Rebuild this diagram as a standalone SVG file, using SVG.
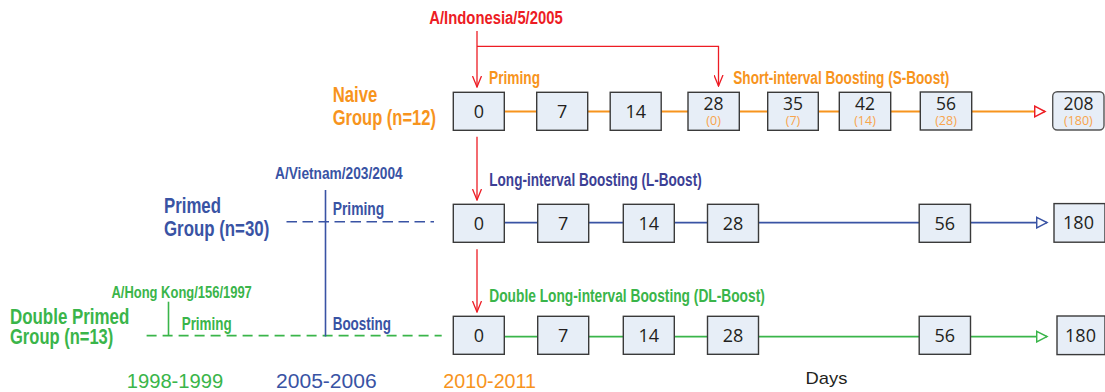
<svg xmlns="http://www.w3.org/2000/svg" width="1105" height="392" viewBox="0 0 1105 392">
  <style>
    .lbl { font-family: "Liberation Sans Narrow", "Liberation Sans", Arial, sans-serif; font-weight: bold; }
    .reg { font-family: "Liberation Sans", Arial, sans-serif; }
    .num { font-family: "Open Sans", "Liberation Sans", sans-serif; font-size: 18px; fill: #231f20; text-anchor: middle; }
    .num2 { font-family: "Open Sans", "Liberation Sans", sans-serif; font-size: 17.5px; fill: #231f20; text-anchor: middle; }
    .sub { font-family: "Open Sans", "Liberation Sans", sans-serif; font-size: 12.5px; fill: #f8a44c; text-anchor: middle; }
    .box { fill: #e7eef7; stroke: #3a3a3a; stroke-width: 1.4; }
    .red { stroke: #ed1c24; stroke-width: 1.3; fill: none; }
    .orange { fill: #f7941d; }
    .blue { fill: #3953a4; }
    .indigo { fill: #3c3f95; }
    .green { fill: #3ab54a; }
  </style>
  <defs>
    <marker id="vRed" markerUnits="userSpaceOnUse" markerWidth="12" markerHeight="10" refX="11" refY="5" orient="auto" viewBox="0 0 12 10">
      <path d="M0,0.5 L11,5 L0,9.5" fill="none" stroke="#ed1c24" stroke-width="1.3"/>
    </marker>
    <marker id="triRed" markerUnits="userSpaceOnUse" markerWidth="13" markerHeight="13" refX="11.5" refY="6.5" orient="auto" viewBox="0 0 13 13">
      <path d="M1.2,1.2 L11.5,6.5 L1.2,11.8 Z" fill="#fff" stroke="#ed1c24" stroke-width="1.5"/>
    </marker>
    <marker id="triBlue" markerUnits="userSpaceOnUse" markerWidth="13" markerHeight="13" refX="11.5" refY="6.5" orient="auto" viewBox="0 0 13 13">
      <path d="M1.2,1.2 L11.5,6.5 L1.2,11.8 Z" fill="#fff" stroke="#3953a4" stroke-width="1.5"/>
    </marker>
    <marker id="triGreen" markerUnits="userSpaceOnUse" markerWidth="13" markerHeight="13" refX="11.5" refY="6.5" orient="auto" viewBox="0 0 13 13">
      <path d="M1.2,1.2 L11.5,6.5 L1.2,11.8 Z" fill="#fff" stroke="#3ab54a" stroke-width="1.5"/>
    </marker>
  </defs>

  <rect width="1105" height="392" fill="#ffffff"/>

  <!-- connectors -->
  <g id="connectors">
    <!-- schedule lines -->
    <path d="M504,111.5 H537 M588,111.5 H610 M661,111.5 H688 M739,111.5 H768 M818,111.5 H839 M891,111.5 H920" stroke="#f7941d" stroke-width="2" fill="none"/>
    <path d="M972,111.5 H1045" stroke="#f7941d" stroke-width="2" fill="none" marker-end="url(#triRed)"/>
    <path d="M504,222.6 H538 M589,222.6 H623 M674,222.6 H707.5 M758.5,222.6 H919" stroke="#3953a4" stroke-width="1.8" fill="none"/>
    <path d="M970.5,222.6 H1047" stroke="#3953a4" stroke-width="1.8" fill="none" marker-end="url(#triBlue)"/>
    <path d="M504,336.6 H538 M589,336.6 H623 M674,336.6 H707.5 M758.5,336.6 H919" stroke="#3ab54a" stroke-width="1.8" fill="none"/>
    <path d="M970.5,336.6 H1047" stroke="#3ab54a" stroke-width="1.8" fill="none" marker-end="url(#triGreen)"/>

    <!-- vaccine strain arrows -->
    <path class="red" d="M477,31 V87" marker-end="url(#vRed)"/>
    <path class="red" d="M477,46.3 H718.5 V86" marker-end="url(#vRed)"/>
    <path class="red" d="M477,136.7 V200" marker-end="url(#vRed)"/>
    <path class="red" d="M477,249.3 V312" marker-end="url(#vRed)"/>

    <!-- earlier priming / boosting history -->
    <path d="M286.5,221.7 H434" stroke="#3953a4" stroke-width="1.6" stroke-dasharray="10.5 5.5" fill="none"/>
    <path d="M146.6,335.6 H441.7" stroke="#3ab54a" stroke-width="1.6" stroke-dasharray="10 6" fill="none"/>
    <path d="M325.5,190 V336.5" stroke="#3953a4" stroke-width="1.6" fill="none"/>
    <path d="M168.5,301.7 V335.6" stroke="#3ab54a" stroke-width="1.6" fill="none"/>
  </g>

  <!-- naive group schedule -->
  <g id="naive-d0"><rect class="box" x="453.3" y="92.3" width="51" height="38"/><text class="num" x="478.8" y="118">0</text></g>
  <g id="naive-d7"><rect class="box" x="536.7" y="92.3" width="51" height="38"/><text class="num" x="562.2" y="118">7</text></g>
  <g id="naive-d14"><rect class="box" x="610.2" y="92.3" width="51" height="38"/><text class="num" x="635.7" y="118">14</text></g>
  <g id="naive-d28"><rect class="box" x="688" y="92.3" width="51.3" height="38"/><text class="num2" x="713.6" y="110">28</text><text class="sub" x="713.6" y="124.6">(0)</text></g>
  <g id="naive-d35"><rect class="box" x="767.7" y="92.3" width="50.6" height="38"/><text class="num2" x="793" y="110">35</text><text class="sub" x="793" y="124.6">(7)</text></g>
  <g id="naive-d42"><rect class="box" x="839.3" y="92.3" width="51.4" height="38"/><text class="num2" x="865" y="110">42</text><text class="sub" x="865" y="124.6">(14)</text></g>
  <g id="naive-d56"><rect class="box" x="920.3" y="92" width="51.4" height="38"/><text class="num2" x="946" y="110">56</text><text class="sub" x="946" y="124.6">(28)</text></g>
  <g id="naive-d208"><rect x="1052.7" y="91.7" width="51.3" height="38.3" rx="4.5" fill="#e7eef7" stroke="#555" stroke-width="1.4"/><text class="num2" x="1078.4" y="110">208</text><text class="sub" x="1078.4" y="124.6">(180)</text></g>

  <!-- primed group schedule -->
  <g id="primed-d0"><rect class="box" x="453.3" y="204.3" width="51" height="38"/><text class="num" x="478.8" y="229.8">0</text></g>
  <g id="primed-d7"><rect class="box" x="537.7" y="204.3" width="51" height="38"/><text class="num" x="563.2" y="229.8">7</text></g>
  <g id="primed-d14"><rect class="box" x="623.3" y="204.3" width="51" height="38"/><text class="num" x="648.8" y="229.8">14</text></g>
  <g id="primed-d28"><rect class="box" x="707.5" y="204.3" width="51" height="38"/><text class="num" x="733" y="229.8">28</text></g>
  <g id="primed-d56"><rect class="box" x="919.2" y="204.3" width="51.3" height="38"/><text class="num" x="944.8" y="229.8">56</text></g>
  <g id="primed-d180"><rect class="box" x="1054" y="203.6" width="51" height="38.6"/><text class="num" x="1078.5" y="229.3">180</text></g>

  <!-- double primed group schedule -->
  <g id="dprimed-d0"><rect class="box" x="453.3" y="316.3" width="51" height="38"/><text class="num" x="478.8" y="341.8">0</text></g>
  <g id="dprimed-d7"><rect class="box" x="537.7" y="316.3" width="51" height="38"/><text class="num" x="563.2" y="341.8">7</text></g>
  <g id="dprimed-d14"><rect class="box" x="623.3" y="316.3" width="51" height="38"/><text class="num" x="648.8" y="341.8">14</text></g>
  <g id="dprimed-d28"><rect class="box" x="707.5" y="316.3" width="51" height="38"/><text class="num" x="733" y="341.8">28</text></g>
  <g id="dprimed-d56"><rect class="box" x="919.2" y="316.3" width="51.3" height="38"/><text class="num" x="944.8" y="341.8">56</text></g>
  <g id="dprimed-d180"><rect class="box" x="1057" y="316" width="48" height="38.6"/><text class="num" x="1080.5" y="341.6">180</text></g>

  <!-- strain labels -->
  <g id="strain-indonesia"><text class="lbl" x="429.3" y="24" font-size="18" fill="#ed1c24" textLength="133.4" lengthAdjust="spacingAndGlyphs">A/Indonesia/5/2005</text></g>
  <g id="strain-vietnam"><text class="lbl blue" x="275" y="178.5" font-size="16" textLength="127.7" lengthAdjust="spacingAndGlyphs">A/Vietnam/203/2004</text></g>
  <g id="strain-hongkong"><text class="lbl green" x="111.5" y="298" font-size="16" textLength="140.3" lengthAdjust="spacingAndGlyphs">A/Hong Kong/156/1997</text></g>

  <!-- regimen labels -->
  <g id="lbl-priming-naive"><text class="lbl orange" x="489" y="83.5" font-size="18" textLength="51" lengthAdjust="spacingAndGlyphs">Priming</text></g>
  <g id="lbl-sboost"><text class="lbl orange" x="733.3" y="84" font-size="18" textLength="216" lengthAdjust="spacingAndGlyphs">Short-interval Boosting (S-Boost)</text></g>
  <g id="lbl-lboost"><text class="lbl indigo" x="489.3" y="185.5" font-size="18" textLength="212.4" lengthAdjust="spacingAndGlyphs">Long-interval Boosting (L-Boost)</text></g>
  <g id="lbl-dlboost"><text class="lbl green" x="489.3" y="302" font-size="18" textLength="275.5" lengthAdjust="spacingAndGlyphs">Double Long-interval Boosting (DL-Boost)</text></g>
  <g id="lbl-priming-primed"><text class="lbl blue" x="332.7" y="214.5" font-size="18" textLength="51.6" lengthAdjust="spacingAndGlyphs">Priming</text></g>
  <g id="lbl-boosting"><text class="lbl blue" x="332.7" y="330" font-size="18" textLength="58.3" lengthAdjust="spacingAndGlyphs">Boosting</text></g>
  <g id="lbl-priming-dprimed"><text class="lbl green" x="181.7" y="330" font-size="18" textLength="50" lengthAdjust="spacingAndGlyphs">Priming</text></g>

  <!-- group names -->
  <g id="group-naive">
    <text class="lbl orange" x="332.7" y="102.3" font-size="22" textLength="44.6" lengthAdjust="spacingAndGlyphs">Naive</text>
    <text class="lbl orange" x="332.7" y="125" font-size="22" textLength="103.3" lengthAdjust="spacingAndGlyphs">Group (n=12)</text>
  </g>
  <g id="group-primed">
    <text class="lbl blue" x="164" y="213.3" font-size="22" textLength="57" lengthAdjust="spacingAndGlyphs">Primed</text>
    <text class="lbl blue" x="164" y="236" font-size="22" textLength="105.3" lengthAdjust="spacingAndGlyphs">Group (n=30)</text>
  </g>
  <g id="group-dprimed">
    <text class="lbl green" x="10" y="324.3" font-size="22" textLength="119.3" lengthAdjust="spacingAndGlyphs">Double Primed</text>
    <text class="lbl green" x="10" y="344" font-size="22" textLength="103.3" lengthAdjust="spacingAndGlyphs">Group (n=13)</text>
  </g>

  <!-- time axis -->
  <g id="years">
    <text class="reg green" x="126.7" y="388" font-size="19.5" textLength="96.6" lengthAdjust="spacingAndGlyphs">1998-1999</text>
    <text class="reg blue" x="276" y="388" font-size="19.5" textLength="100.7" lengthAdjust="spacingAndGlyphs">2005-2006</text>
    <text class="reg orange" x="443.3" y="388" font-size="19.5" textLength="92.7" lengthAdjust="spacingAndGlyphs">2010-2011</text>
  </g>
  <g id="days"><text class="reg" x="805.6" y="384" font-size="17" fill="#231f20" textLength="41.8" lengthAdjust="spacingAndGlyphs">Days</text></g>
</svg>
